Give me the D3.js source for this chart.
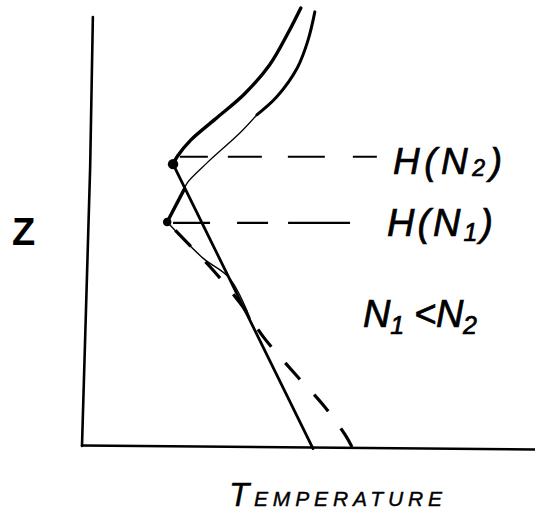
<!DOCTYPE html>
<html>
<head>
<meta charset="utf-8">
<script src="https://cdn.jsdelivr.net/npm/d3@7"></script>
<style>
  html, body { margin: 0; padding: 0; background: #fff; }
  svg { display: block; }
  text { font-family: "Liberation Sans", "DejaVu Sans", sans-serif; fill: #000; }
</style>
</head>
<body>
<svg id="chart" width="535" height="514"></svg>
<script>
// ---- data (temperature, height) in arbitrary sketch units ----
const axisYLine = [[2.4, 100], [1.8, 65], [0, 0]];
const axisXLine = [[0, 0.1], [100, -0.8]];

// N2 profile: curved upper part, then straight lapse below the inversion point
const curveN2 = [[48.3, 102.1], [45.6, 96.5], [41.4, 88.8], [35.8, 82.0], [29.4, 76.2], [24.0, 71.3], [21.1, 67.6], [20.1, 65.7]];
const lineN2 = [[20.1, 65.7], [51.0, -0.6]];

// N1 profile
const curveN1Upper = [[51.4, 101.2], [49.9, 94.6], [47.6, 88.3], [43.0, 81.4], [38.6, 77.2]];
const curveN1Thin = [[38.6, 77.2], [34.9, 73.0], [27.6, 66.0], [23.2, 61.3], [22.5, 59.7]];
const kinkN1 = [[22.5, 59.7], [18.8, 52.2]];
const lowerN1 = [[18.8, 52.2], [26.7, 43.8], [32.5, 39.2], [37.1, 29.8]];
const dashedN1 = [[18.8, 52.2], [29.1, 40.8], [34.9, 33.3], [40.2, 25.2], [47.2, 16.6], [53.2, 9.6], [58.1, 2.6], [59.6, -0.2]];

// mixing heights
const levelN2 = { z: 67.4, from: 21.6, to: 65.3 };
const levelN1 = { z: 52.0, from: 20.1, to: 59.2 };
const dotsN2 = [[20.1, 65.7]];
const dotsN1 = [[18.8, 52.2]];

const labelN2 = ["H(N", "2", ")"];
const labelN1 = ["H(N", "1", ")"];
const labelCompare = ["N", "1", " <N", "2"];
const xTitle = ["T", "EMPERATURE"];
const yTitle = "Z";

// ---- drawing ----
const svg = d3.select("#chart");
const x = d3.scaleLinear().domain([0, 100]).range([82, 535]);
const y = d3.scaleLinear().domain([0, 100]).range([446, 17]);

const straight = d3.line().x(d => x(d[0])).y(d => y(d[1]));
const smooth = d3.line().x(d => x(d[0])).y(d => y(d[1])).curve(d3.curveCatmullRom.alpha(0.5));

function path(data, gen, w, dash, offset) {
  const p = svg.append("path")
    .attr("d", gen(data))
    .attr("fill", "none")
    .attr("stroke", "#000")
    .attr("stroke-width", w)
    .attr("stroke-linecap", "round")
    .attr("stroke-linejoin", "round");
  if (dash) p.attr("stroke-dasharray", dash).attr("stroke-linecap", "butt");
  if (offset) p.attr("stroke-dashoffset", offset);
  return p;
}

// axes
path(axisYLine, straight, 2.6);
path(axisXLine, straight, 2.6);

// mixing height dashed levels
path([[levelN2.from, levelN2.z], [levelN2.to, levelN2.z]], straight, 2, "28,20,34,26,37,28,24");
path([[levelN1.from, levelN1.z], [levelN1.to, levelN1.z]], straight, 2.2, "37,27,31,20,62");

// profiles
path(curveN2, smooth, 3.4);
path(lineN2, straight, 2.8);
path(curveN1Upper, smooth, 3);
path(curveN1Thin, smooth, 1.3);
path(kinkN1, straight, 3.4);
path(lowerN1, smooth, 1.4);
path(dashedN1, smooth, 3.2, "22,21", 31);

// dots
svg.selectAll("circle.n2").data(dotsN2).join("circle")
  .attr("cx", d => x(d[0])).attr("cy", d => y(d[1])).attr("r", 5.2).attr("fill", "#000");
svg.selectAll("circle.n1").data(dotsN1).join("circle")
  .attr("cx", d => x(d[0])).attr("cy", d => y(d[1])).attr("r", 4.3).attr("fill", "#000");

// labels
function subLabel(parts, px, py, size, subSize, subDy, len) {
  const t = svg.append("text").attr("x", px).attr("y", py)
    .attr("font-size", size)
    .attr("font-style", "italic")
    .attr("stroke", "#000").attr("stroke-width", 0.7)
    .attr("textLength", len).attr("lengthAdjust", "spacing");
  parts.forEach((s, i) => {
    const isSub = i % 2 === 1;
    t.append("tspan")
      .attr("font-size", isSub ? subSize : size)
      .attr("dy", i === 0 ? 0 : (isSub ? subDy : -subDy))
      .text(s);
  });
  return t;
}
subLabel(labelN2, 393, 174, 37, 23, 2, 109);
subLabel(labelN1, 387, 236, 38, 25, 5, 106);
subLabel(labelCompare, 363, 327, 38, 25, 7, 114);

svg.append("text").attr("x", 12).attr("y", 245)
  .attr("font-size", 38).attr("font-weight", "bold").text(yTitle);

svg.append("text").attr("x", 229).attr("y", 506)
  .attr("font-style", "italic").attr("font-size", 33)
  .attr("stroke", "#000").attr("stroke-width", 0.4)
  .text(xTitle[0]);
svg.append("text").attr("x", 254).attr("y", 506)
  .attr("font-style", "italic").attr("font-size", 21)
  .attr("stroke", "#000").attr("stroke-width", 0.4)
  .attr("textLength", 188).attr("lengthAdjust", "spacing")
  .text(xTitle[1]);
</script>
</body>
</html>
